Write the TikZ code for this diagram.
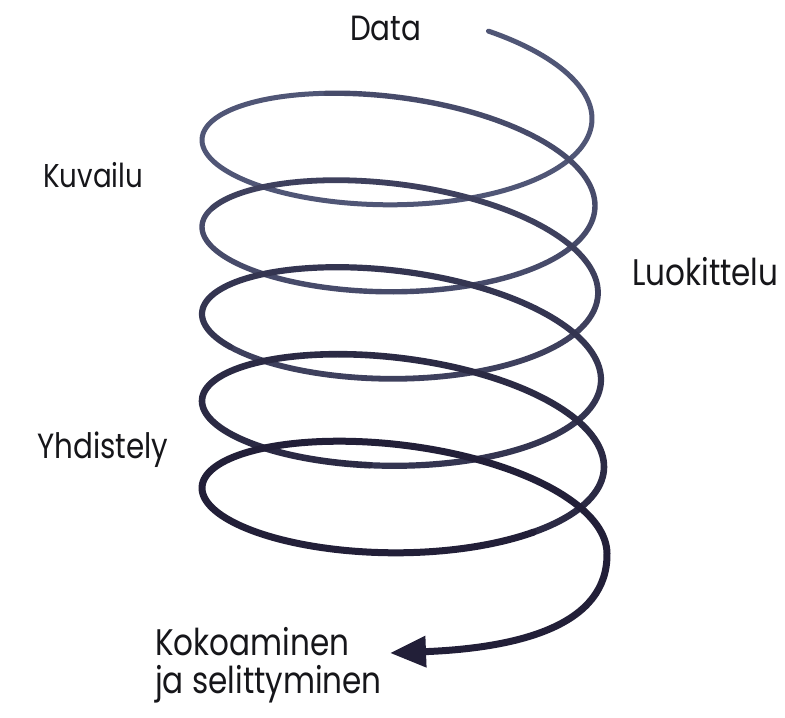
\documentclass[tikz,border=0pt]{standalone}
\usepackage{fontspec}
\setmainfont{Poppins}[FakeStretch=0.84]
\usetikzlibrary{arrows.meta}
\definecolor{springtop}{RGB}{80,86,118}
\definecolor{springbot}{RGB}{34,31,56}
\definecolor{ink}{RGB}{22,22,26}
\begin{document}
\begin{tikzpicture}[x=1pt,y=-1pt,
  lab/.style={font=\fontsize{#1}{#1}\selectfont, text=ink, inner sep=0pt, anchor=base west},
  spring/.style={line cap=round, line join=round},
  declare function={
    hx(\t)=397+1.5*\t/(2*pi)+(195+1.5*\t/(2*pi))*cos(\t r);
    hy(\t)=107.5+87*\t/(2*pi)+75.5*sin(\t r)+11*cos(\t r);
  }]
\useasboundingbox (0,0) rectangle (785,718);
\fill[white] (0,0) rectangle (785,718);

% spring drawn in segments that darken and thicken downwards
\foreach \i in {0,...,4}{
  \pgfmathsetmacro\ta{-1.08+\i*5.416}
  \pgfmathsetmacro\tb{\ta+5.416}
  \pgfmathsetmacro\w{5.0+0.4*\i}
  \pgfmathsetmacro\m{100-20*\i}
  \draw[spring, line width=\w pt, color=springtop!\m!springbot]
    plot[domain=\ta:\tb, samples=140] ({hx(\x)},{hy(\x)});
}
\coordinate (tip) at (390,653);
\draw[spring, line width=7pt, color=springbot, -{Triangle[length=36pt,width=30pt]}]
  plot[domain=26.0:31.416, samples=140] ({hx(\x)},{hy(\x)})
  .. controls (608,625) and (520,648) .. (tip);

\node[lab=35] (data) at (350,40) {Data};
\node[lab=33] (kuvailu) at (43,187) {Kuvailu};
\node[lab=37] (luokittelu) at (632,285) {Luokittelu};
\node[lab=35] (yhdistely) at (37,458) {Yhdistely};
\node[lab=37] (kokoaminen) at (155,655)
  {\fontsize{37}{33}\selectfont\begin{tabular}[t]{@{}l@{}}Kokoaminen\\ja selittyminen\end{tabular}};
\end{tikzpicture}
\end{document}
